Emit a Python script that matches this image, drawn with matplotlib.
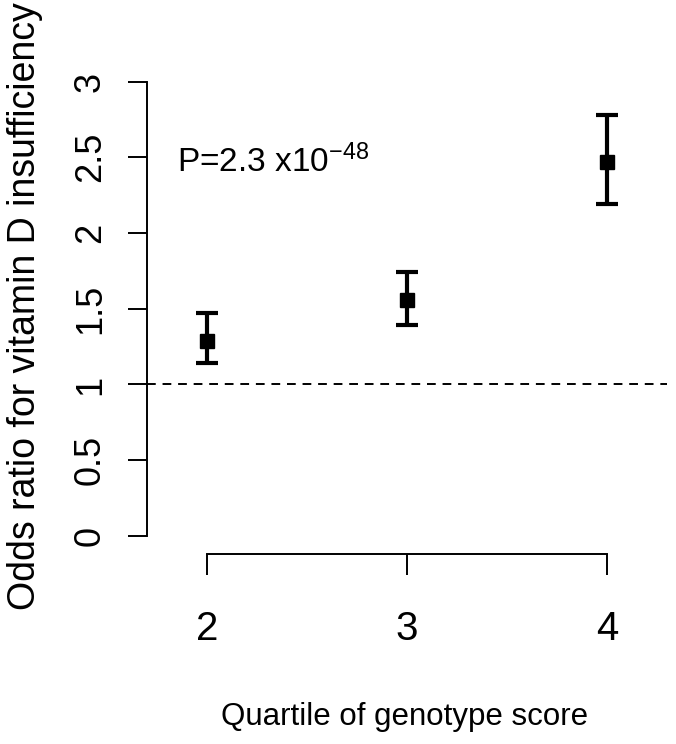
import matplotlib
matplotlib.use("Agg")
import matplotlib.pyplot as plt

# odds ratios by quartile of genotype score (quartile 1 = reference)
quartiles = [2, 3, 4]
odds_ratio = [1.29, 1.56, 2.47]
ci_low = [1.14, 1.39, 2.19]
ci_high = [1.47, 1.74, 2.78]
y_ticks = [0, 0.5, 1, 1.5, 2, 2.5, 3]
y_tick_labels = ["0", "0.5", "1", "1.5", "2", "2.5", "3"]

plt.rcParams['font.family'] = ['Liberation Sans', 'DejaVu Sans']
plt.rcParams['mathtext.default'] = 'regular'

W, H = 676, 744
fig = plt.figure(figsize=(W / 100, H / 100), dpi=100)
# axes box in pixels: left 147, right 667, top 70, bottom 554
ax = fig.add_axes([147 / W, 1 - 554 / H, 520 / W, 484 / H])

err_lo = [o - l for o, l in zip(odds_ratio, ci_low)]
err_hi = [h - o for o, h in zip(odds_ratio, ci_high)]
ax.errorbar(quartiles, odds_ratio, yerr=[err_lo, err_hi], fmt='s', color='black',
            ms=10, elinewidth=3, capsize=8, capthick=3)
ax.axhline(1, color='black', lw=1.4, ls=(0, (4.5, 3.5)))

ax.set_xlim(1.7, 4.3)
ax.set_ylim(-0.119, 3.076)

for s in ['top', 'right']:
    ax.spines[s].set_visible(False)
ax.spines['left'].set_bounds(0, 3)
ax.spines['bottom'].set_bounds(2, 4)
ax.spines['left'].set_linewidth(1.4)
ax.spines['bottom'].set_linewidth(1.4)

ax.set_yticks(y_ticks)
ax.set_yticklabels(y_tick_labels, rotation=90, va='center')
ax.set_xticks(quartiles)
ax.set_xticklabels([str(q) for q in quartiles])
ax.tick_params(axis='y', length=14, width=1.4, pad=14, labelsize=26)
ax.tick_params(axis='x', length=15, width=1.4, pad=25, labelsize=29)

ax.set_ylabel('Odds ratio for vitamin D insufficiency', fontsize=27, va='center')
ax.yaxis.set_label_coords(-0.235, 0.512)
ax.set_xlabel('Quartile of genotype score', fontsize=22.5, va='center')
ax.xaxis.set_label_coords(0.496, -0.337)

ax.text(1.85, 2.4, r'P=2.3 x10$^{-48}$', fontsize=24, va='baseline', ha='left')

fig.savefig('out.png', dpi=100)
